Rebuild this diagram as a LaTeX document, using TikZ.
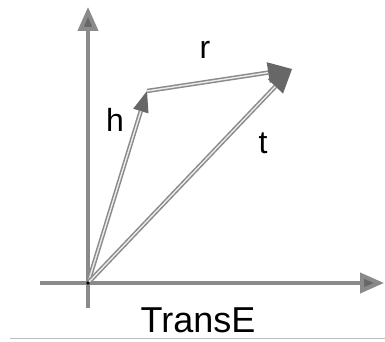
\documentclass[tikz,border=0pt]{standalone}
\usepackage{fontspec}
\setmainfont{Liberation Sans}
\usepackage{tikz}
\usetikzlibrary{arrows.meta}
\definecolor{axisGray}{HTML}{8A8A8A}
\definecolor{tipGray}{HTML}{676767}
\definecolor{ruleGray}{HTML}{BDBDBD}

\begin{document}
\begin{tikzpicture}[
  x=1pt, y=1pt,
  every node/.style={font=\fontsize{32}{32}\selectfont, text=black},
  axis/.style={-{Triangle[length=24pt, width=20pt, fill=tipGray]}, draw=axisGray, line width=4pt},
  vec/.style={draw=axisGray, double=white!92!black, double distance=1.4pt, line width=1.5pt},
  bigtip/.style={-{Triangle[length=24pt, width=21pt, fill=tipGray, line width=0pt]}},
  smalltip/.style={-{Triangle[length=21pt, width=16pt, fill=tipGray, line width=0pt]}},
]
\useasboundingbox (0,0) rectangle (385,342);

% Points
\coordinate (O) at (88,59);
\coordinate (H) at (147,251);
\coordinate (T) at (292,273);
\coordinate (xs) at (40,59);
\coordinate (xe) at (384,59);
\coordinate (ys) at (88,34);
\coordinate (ye) at (88,335);

% Rule under the picture
\coordinate (rl) at (10,3);
\coordinate (rr) at (385,3);
\draw[ruleGray, line width=1pt] (rl) -- (rr);

% Axes
\draw[axis] (xs) -- (xe);
\draw[axis] (ys) -- (ye);

% Vectors
\draw[vec, smalltip] (O) -- (H);
\draw[vec, bigtip] (H) -- (T);
\draw[vec, bigtip] (O) -- (T);
\fill[black] (O) circle (1.8pt);

% Labels
\node (lr) at (205,292) {r};
\node (lh) at (115,222) {h};
\node (lt) at (263,199) {t};
\node[anchor=base, inner sep=1pt, font=\fontsize{36}{36}\selectfont] (title) at (198,9) {TransE};
\end{tikzpicture}
\end{document}
